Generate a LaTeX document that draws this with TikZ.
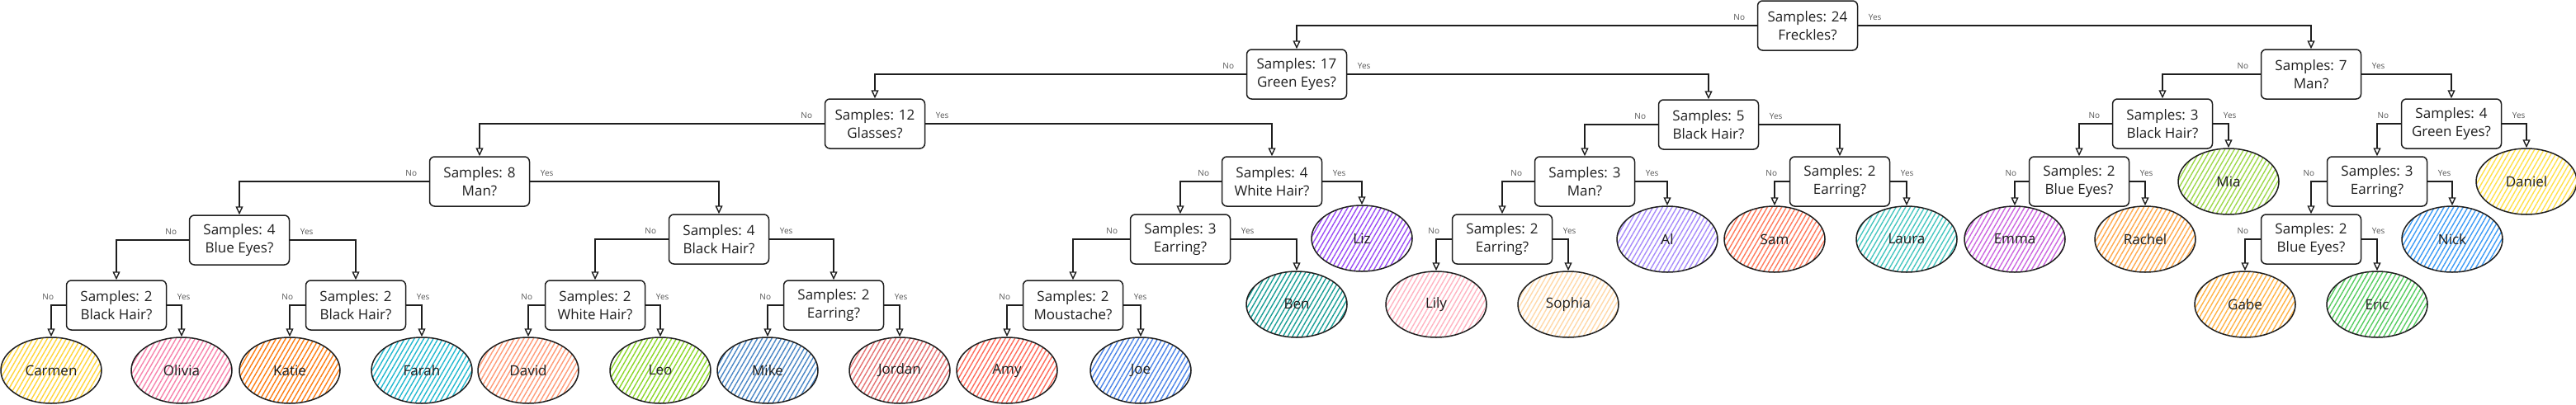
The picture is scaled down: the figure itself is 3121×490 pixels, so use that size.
\documentclass[tikz,border=0pt]{standalone}
\usepackage{fontspec}
\setmainfont{Open Sans}
\definecolor{ink}{HTML}{1E1E1E}
\definecolor{labgray}{HTML}{555555}
\definecolor{carmenc}{HTML}{FFD43B}
\definecolor{oliviac}{HTML}{F783AC}
\definecolor{katiec}{HTML}{FD7E14}
\definecolor{farahc}{HTML}{22B8CF}
\definecolor{davidc}{HTML}{FF9A76}
\definecolor{leoc}{HTML}{8CD629}
\definecolor{mikec}{HTML}{4A86C5}
\definecolor{jordanc}{HTML}{E57373}
\definecolor{amyc}{HTML}{FF6B5B}
\definecolor{joec}{HTML}{4C84E8}
\definecolor{benc}{HTML}{1A9E96}
\definecolor{lizc}{HTML}{9B4DF4}
\definecolor{lilyc}{HTML}{FFB3C1}
\definecolor{sophiac}{HTML}{FFD8A8}
\definecolor{alc}{HTML}{A78BFA}
\definecolor{samc}{HTML}{FF7A5C}
\definecolor{laurac}{HTML}{45C6C0}
\definecolor{emmac}{HTML}{CC66E0}
\definecolor{rachelc}{HTML}{FFA94D}
\definecolor{miac}{HTML}{9ED84A}
\definecolor{danielc}{HTML}{FFE04B}
\definecolor{nickc}{HTML}{3D9BF5}
\definecolor{gabec}{HTML}{FFB347}
\definecolor{ericc}{HTML}{56CC60}
\usetikzlibrary{arrows.meta, shapes.geometric, patterns.meta}

\tikzset{
  question/.style = {rectangle, rounded corners = 6pt, draw = ink, line width = 1.5pt, minimum width = 121pt, minimum height = 60pt, align = center, text = ink, inner sep = 1pt, font = \fontsize{17}{22}\selectfont},
  person/.style = {ellipse, draw = ink, line width = 1.5pt, minimum width = 122pt, minimum height = 80pt, text = ink, font = \fontsize{17}{22}\selectfont, pattern = {Lines[angle = 60, distance = 5pt, line width = 1.4pt]}, pattern color = #1},
  branch/.style = {draw = ink, line width = 1.4pt, -{Triangle[open, length = 10pt, width = 9pt]}},
  nolab/.style = {text = labgray, inner sep = 1pt, anchor = south east, xshift = -13pt, yshift = 5pt, font = \fontsize{10}{12}\selectfont},
  yeslab/.style = {text = labgray, inner sep = 1pt, anchor = south west, xshift = 11pt, yshift = 5pt, font = \fontsize{10}{12}\selectfont}
}

\begin{document}
\begin{tikzpicture}[x = 1pt, y = -1pt]
\useasboundingbox (0,0) rectangle (3121,490);
% questions
\node[question] (frk) at (2190,31) {Samples: 24\\Freckles?};
\node[question] (grn) at (1571,90) {Samples: 17\\Green Eyes?};
\node[question] (man7) at (2800,90) {Samples: 7\\Man?};
\node[question] (gls) at (1060,150) {Samples: 12\\Glasses?};
\node[question] (bh5) at (2070,151) {Samples: 5\\Black Hair?};
\node[question] (bh3) at (2620,150) {Samples: 3\\Black Hair?};
\node[question] (grn4) at (2970,150) {Samples: 4\\Green Eyes?};
\node[question] (man8) at (581,220) {Samples: 8\\Man?};
\node[question] (wh4) at (1541,220) {Samples: 4\\White Hair?};
\node[question] (man3) at (1920,220) {Samples: 3\\Man?};
\node[question] (ear2c) at (2229,220) {Samples: 2\\Earring?};
\node[question] (blu2) at (2519,220) {Samples: 2\\Blue Eyes?};
\node[question] (ear3b) at (2880,220) {Samples: 3\\Earring?};
\node[question] (blu4) at (290,291) {Samples: 4\\Blue Eyes?};
\node[question] (bh4) at (871,290) {Samples: 4\\Black Hair?};
\node[question] (ear3) at (1430,290) {Samples: 3\\Earring?};
\node[question] (ear2b) at (1820,290) {Samples: 2\\Earring?};
\node[question] (blu2b) at (2800,290) {Samples: 2\\Blue Eyes?};
\node[question] (bh2a) at (141,370) {Samples: 2\\Black Hair?};
\node[question] (bh2b) at (431,370) {Samples: 2\\Black Hair?};
\node[question] (wh2) at (721,370) {Samples: 2\\White Hair?};
\node[question] (ear2a) at (1010,370) {Samples: 2\\Earring?};
\node[question] (mou) at (1300,370) {Samples: 2\\Moustache?};
% people
\node[person = carmenc] (carmen) at (62,449) {Carmen};
\node[person = oliviac] (olivia) at (220,449) {Olivia};
\node[person = katiec] (katie) at (351,449) {Katie};
\node[person = farahc] (farah) at (511,449) {Farah};
\node[person = davidc] (david) at (640,449) {David};
\node[person = leoc] (leo) at (800,449) {Leo};
\node[person = mikec] (mike) at (930,449) {Mike};
\node[person = jordanc] (jordan) at (1090,449) {Jordan};
\node[person = amyc] (amy) at (1220,449) {Amy};
\node[person = joec] (joe) at (1382,449) {Joe};
\node[person = benc] (ben) at (1571,369) {Ben};
\node[person = lizc] (liz) at (1650,289) {Liz};
\node[person = lilyc] (lily) at (1740,369) {Lily};
\node[person = sophiac] (sophia) at (1900,369) {Sophia};
\node[person = alc] (al) at (2020,290) {Al};
\node[person = samc] (sam) at (2150,290) {Sam};
\node[person = laurac] (laura) at (2310,290) {Laura};
\node[person = emmac] (emma) at (2441,290) {Emma};
\node[person = rachelc] (rachel) at (2599,290) {Rachel};
\node[person = miac] (mia) at (2700,220) {Mia};
\node[person = danielc] (daniel) at (3061,220) {Daniel};
\node[person = nickc] (nick) at (2971,290) {Nick};
\node[person = gabec] (gabe) at (2720,369) {Gabe};
\node[person = ericc] (eric) at (2880,369) {Eric};
% branches
\draw[branch] (frk.west) -| (grn.north) node[nolab, at start] {No};
\draw[branch] (frk.east) -| (man7.north) node[yeslab, at start] {Yes};
\draw[branch] (grn.west) -| (gls.north) node[nolab, at start] {No};
\draw[branch] (grn.east) -| (bh5.north) node[yeslab, at start] {Yes};
\draw[branch] (gls.west) -| (man8.north) node[nolab, at start] {No};
\draw[branch] (gls.east) -| (wh4.north) node[yeslab, at start] {Yes};
\draw[branch] (man8.west) -| (blu4.north) node[nolab, at start] {No};
\draw[branch] (man8.east) -| (bh4.north) node[yeslab, at start] {Yes};
\draw[branch] (blu4.west) -| (bh2a.north) node[nolab, at start] {No};
\draw[branch] (blu4.east) -| (bh2b.north) node[yeslab, at start] {Yes};
\draw[branch] (bh2a.west) -| (carmen.north) node[nolab, at start] {No};
\draw[branch] (bh2a.east) -| (olivia.north) node[yeslab, at start] {Yes};
\draw[branch] (bh2b.west) -| (katie.north) node[nolab, at start] {No};
\draw[branch] (bh2b.east) -| (farah.north) node[yeslab, at start] {Yes};
\draw[branch] (bh4.west) -| (wh2.north) node[nolab, at start] {No};
\draw[branch] (bh4.east) -| (ear2a.north) node[yeslab, at start] {Yes};
\draw[branch] (wh2.west) -| (david.north) node[nolab, at start] {No};
\draw[branch] (wh2.east) -| (leo.north) node[yeslab, at start] {Yes};
\draw[branch] (ear2a.west) -| (mike.north) node[nolab, at start] {No};
\draw[branch] (ear2a.east) -| (jordan.north) node[yeslab, at start] {Yes};
\draw[branch] (wh4.west) -| (ear3.north) node[nolab, at start] {No};
\draw[branch] (wh4.east) -| (liz.north) node[yeslab, at start] {Yes};
\draw[branch] (ear3.west) -| (mou.north) node[nolab, at start] {No};
\draw[branch] (ear3.east) -| (ben.north) node[yeslab, at start] {Yes};
\draw[branch] (mou.west) -| (amy.north) node[nolab, at start] {No};
\draw[branch] (mou.east) -| (joe.north) node[yeslab, at start] {Yes};
\draw[branch] (bh5.west) -| (man3.north) node[nolab, at start] {No};
\draw[branch] (bh5.east) -| (ear2c.north) node[yeslab, at start] {Yes};
\draw[branch] (man3.west) -| (ear2b.north) node[nolab, at start] {No};
\draw[branch] (man3.east) -| (al.north) node[yeslab, at start] {Yes};
\draw[branch] (ear2b.west) -| (lily.north) node[nolab, at start] {No};
\draw[branch] (ear2b.east) -| (sophia.north) node[yeslab, at start] {Yes};
\draw[branch] (ear2c.west) -| (sam.north) node[nolab, at start] {No};
\draw[branch] (ear2c.east) -| (laura.north) node[yeslab, at start] {Yes};
\draw[branch] (man7.west) -| (bh3.north) node[nolab, at start] {No};
\draw[branch] (man7.east) -| (grn4.north) node[yeslab, at start] {Yes};
\draw[branch] (bh3.west) -| (blu2.north) node[nolab, at start] {No};
\draw[branch] (bh3.east) -| (mia.north) node[yeslab, at start] {Yes};
\draw[branch] (blu2.west) -| (emma.north) node[nolab, at start] {No};
\draw[branch] (blu2.east) -| (rachel.north) node[yeslab, at start] {Yes};
\draw[branch] (grn4.west) -| (ear3b.north) node[nolab, at start] {No};
\draw[branch] (grn4.east) -| (daniel.north) node[yeslab, at start] {Yes};
\draw[branch] (ear3b.west) -| (blu2b.north) node[nolab, at start] {No};
\draw[branch] (ear3b.east) -| (nick.north) node[yeslab, at start] {Yes};
\draw[branch] (blu2b.west) -| (gabe.north) node[nolab, at start] {No};
\draw[branch] (blu2b.east) -| (eric.north) node[yeslab, at start] {Yes};
\end{tikzpicture}
\end{document}
